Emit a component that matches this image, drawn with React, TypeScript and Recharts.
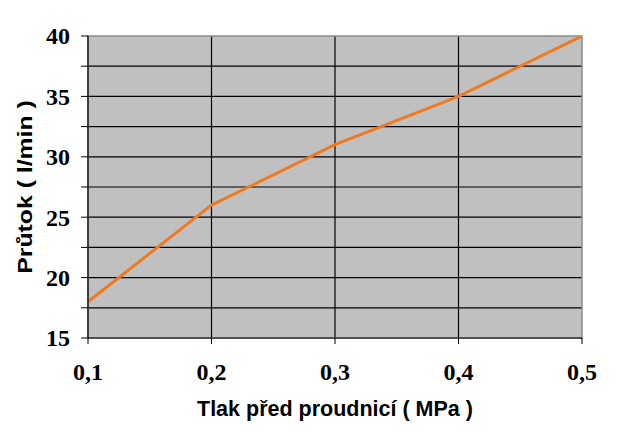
import React from 'react';
import { LineChart, Line, XAxis, YAxis, CartesianGrid, ReferenceArea } from 'recharts';

const pressures = [0.1, 0.2, 0.3, 0.4, 0.5];
const flows = [18, 26, 31, 35, 40];
const xTicks = [0.1, 0.2, 0.3, 0.4, 0.5];
const yTicks = [15, 17.5, 20, 22.5, 25, 27.5, 30, 32.5, 35, 37.5, 40];
const xTitle = 'Tlak před proudnicí ( MPa )';
const yTitle = 'Průtok ( l/min )';

const data = pressures.map((p, i) => ({ p, flow: flows[i] }));

const SERIF = '"Liberation Serif", "Times New Roman", serif';
const SANS = '"Liberation Sans", Arial, sans-serif';

const XTick = (props: any) => {
  const { x, y, payload } = props;
  return (
    <text x={x} y={y} textAnchor="middle" dy="0.71em" fontFamily={SERIF} fontWeight={700} fontSize={24} fill="#000">
      {Number(payload.value).toFixed(1).replace('.', ',')}
    </text>
  );
};

const YTick = (props: any) => {
  const { x, y, payload } = props;
  const v = Number(payload.value);
  if (v % 5 !== 0) return <g />;
  return (
    <text x={x} y={y} textAnchor="end" dy="0.35em" fontFamily={SERIF} fontWeight={700} fontSize={24} fill="#000">
      {String(v)}
    </text>
  );
};

const YTitle = (props: any) => {
  const vb = props.viewBox || {};
  const cx = 25;
  const cy = vb.y + vb.height / 2;
  return (
    <text
      x={0}
      y={0}
      transform={`translate(${cx} ${cy}) rotate(-90) scale(1.18 1)`}
      textAnchor="middle"
      dominantBaseline="central"
      fontFamily={SANS}
      fontWeight={700}
      fontSize={21}
      fill="#000"
    >
      {yTitle}
    </text>
  );
};

const XTitle = (props: any) => {
  const vb = props.viewBox || {};
  const cx = vb.x + vb.width / 2;
  const cy = vb.y + 71;
  return (
    <text x={cx} y={cy} textAnchor="middle" dominantBaseline="central" fontFamily={SANS} fontWeight={700} fontSize={21.5} fill="#000">
      {xTitle}
    </text>
  );
};

export default function App() {
  return (
    <div style={{ position: 'absolute', left: 0, top: 0, width: 640, height: 432, background: '#fff' }}>
      <LineChart width={640} height={432} data={data} margin={{ top: 36, right: 58, left: 0, bottom: 0 }}>
        <CartesianGrid
          fill="#C0C0C0"
          fillOpacity={1}
          stroke="#000"
          strokeWidth={1.2}
          horizontalValues={[17.5, 20, 22.5, 25, 27.5, 30, 32.5, 35, 37.5]}
          verticalValues={[0.2, 0.3, 0.4]}
        />
        <ReferenceArea x1={0.1} x2={0.5} y1={15} y2={40} fill="none" stroke="#8a8a8a" strokeWidth={1.5} ifOverflow="visible" />
        <XAxis
          dataKey="p"
          type="number"
          domain={[0.1, 0.5]}
          ticks={xTicks}
          tick={<XTick />}
          tickSize={6}
          tickMargin={19}
          height={94}
          interval={0}
          stroke="#000"
          tickLine={{ stroke: '#000' }}
          axisLine={{ stroke: '#000', strokeWidth: 1.2 }}
          label={<XTitle />}
          allowDataOverflow
        />
        <YAxis
          type="number"
          domain={[15, 40]}
          ticks={yTicks}
          tick={<YTick />}
          tickSize={7}
          tickMargin={11}
          width={88}
          interval={0}
          stroke="#000"
          tickLine={{ stroke: '#000' }}
          axisLine={{ stroke: '#000', strokeWidth: 1.2 }}
          label={<YTitle />}
          allowDataOverflow
        />
        <Line
          type="linear"
          dataKey="flow"
          stroke="#EE7A22"
          strokeWidth={3}
          dot={false}
          isAnimationActive={false}
        />
      </LineChart>
    </div>
  );
}
